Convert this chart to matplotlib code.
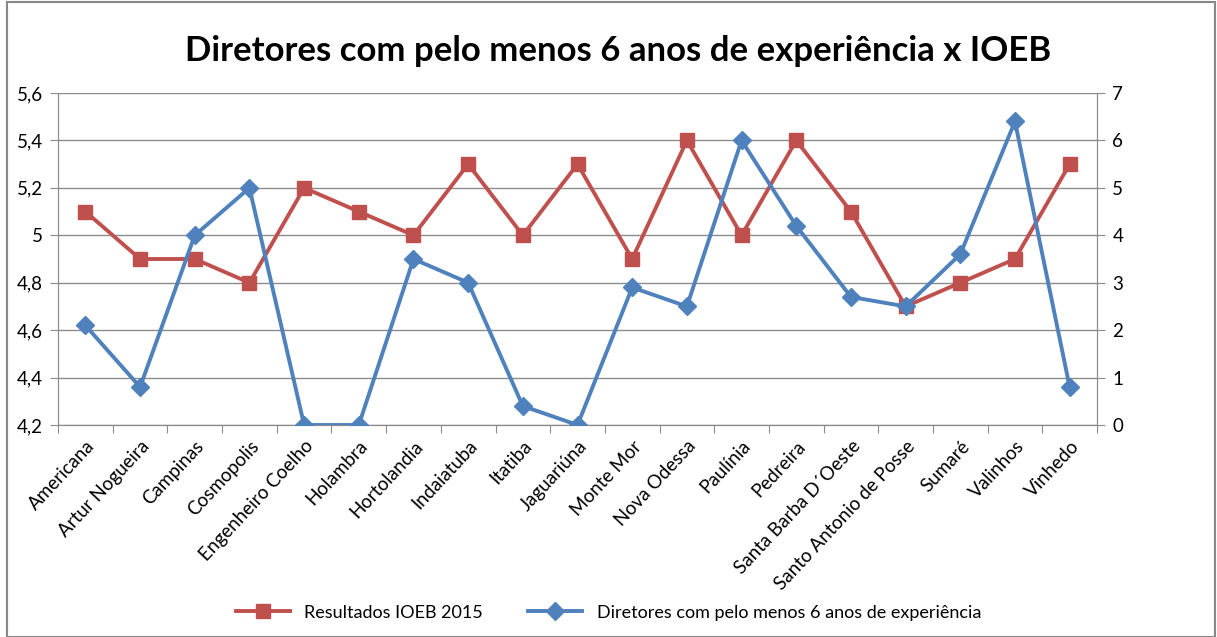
import matplotlib.pyplot as plt
import matplotlib.patches as patches

cidades = ["Americana", "Artur Nogueira", "Campinas", "Cosmopolis", "Engenheiro Coelho",
           "Holambra", "Hortolandia", "Indaiatuba", "Itatiba", "Jaguariúna", "Monte Mor",
           "Nova Odessa", "Paulínia", "Pedreira", "Santa Barba D´Oeste",
           "Santo Antonio de Posse", "Sumaré", "Valinhos", "Vinhedo"]
ioeb_2015 = [5.1, 4.9, 4.9, 4.8, 5.2, 5.1, 5.0, 5.3, 5.0, 5.3, 4.9, 5.4, 5.0, 5.4, 5.1,
             4.7, 4.8, 4.9, 5.3]
diretores_6anos = [2.1, 0.8, 4.0, 5.0, 0.0, 0.0, 3.5, 3.0, 0.4, 0.0, 2.9, 2.5, 6.0, 4.2,
                   2.7, 2.5, 3.6, 6.4, 0.8]
ticks_esq = [4.2, 4.4, 4.6, 4.8, 5.0, 5.2, 5.4, 5.6]
labels_esq = ["4,2", "4,4", "4,6", "4,8", "5", "5,2", "5,4", "5,6"]
ticks_dir = [0, 1, 2, 3, 4, 5, 6, 7]

plt.rcParams['font.family'] = ['Lato', 'DejaVu Sans']

vermelho = '#C0504D'
azul = '#4F81BD'
grade = '#8C8C8C'

fig = plt.figure(figsize=(12.17, 6.37), dpi=100)
ax = fig.add_axes([0.0477, 0.3328, 0.8537, 0.5212])
ax2 = ax.twinx()

x = list(range(len(cidades)))

l1, = ax.plot(x, ioeb_2015, color=vermelho, lw=2.8, marker='s', markersize=10.5,
              label='Resultados IOEB 2015', zorder=3)
l2, = ax2.plot(x, diretores_6anos, color=azul, lw=2.8, marker='D', markersize=9,
               label='Diretores com pelo menos 6 anos de experiência', zorder=3)

ax.set_xlim(-0.5, len(cidades) - 0.5)
ax.set_ylim(4.2, 5.6)
ax2.set_ylim(0, 7)
ax.set_yticks(ticks_esq)
ax.set_yticklabels(labels_esq, fontsize=13.5)
ax2.set_yticks(ticks_dir)
ax2.set_yticklabels([str(t) for t in ticks_dir], fontsize=13.5)

ax.yaxis.grid(True, color=grade, lw=1)
ax.set_axisbelow(True)

# category ticks between the categories, labels at centers
ax.set_xticks([i - 0.5 for i in range(len(cidades) + 1)])
ax.set_xticklabels([])
ax.set_xticks(x, minor=True)
ax.set_xticklabels(cidades, minor=True, rotation=47, ha='right', rotation_mode='anchor',
                   fontsize=13.5)
ax.tick_params(axis='x', which='minor', length=0, pad=9)
ax.tick_params(axis='x', which='major', length=6, color=grade, direction='out')
ax.tick_params(axis='y', length=6, color=grade, pad=5)
ax2.tick_params(axis='y', length=6, color=grade, pad=5)

for a in (ax, ax2):
    a.spines['top'].set_visible(False)
    for s in ('left', 'right', 'bottom'):
        a.spines[s].set_color(grade)

fig.text(0.508, 0.92, "Diretores com pelo menos 6 anos de experiência x IOEB",
         ha='center', va='center', fontsize=25, fontweight='bold')

fig.legend(handles=[l1, l2], loc='center', bbox_to_anchor=(0.5, 0.038), ncol=2,
           frameon=False, fontsize=13, handlelength=3, columnspacing=2.5)

# chart border
fig.add_artist(patches.Rectangle((0.006, 0.0), 0.992, 0.997, transform=fig.transFigure,
                                 fill=False, edgecolor='#888888', lw=1.5))

fig.savefig('out.png', dpi=100, facecolor='white')
